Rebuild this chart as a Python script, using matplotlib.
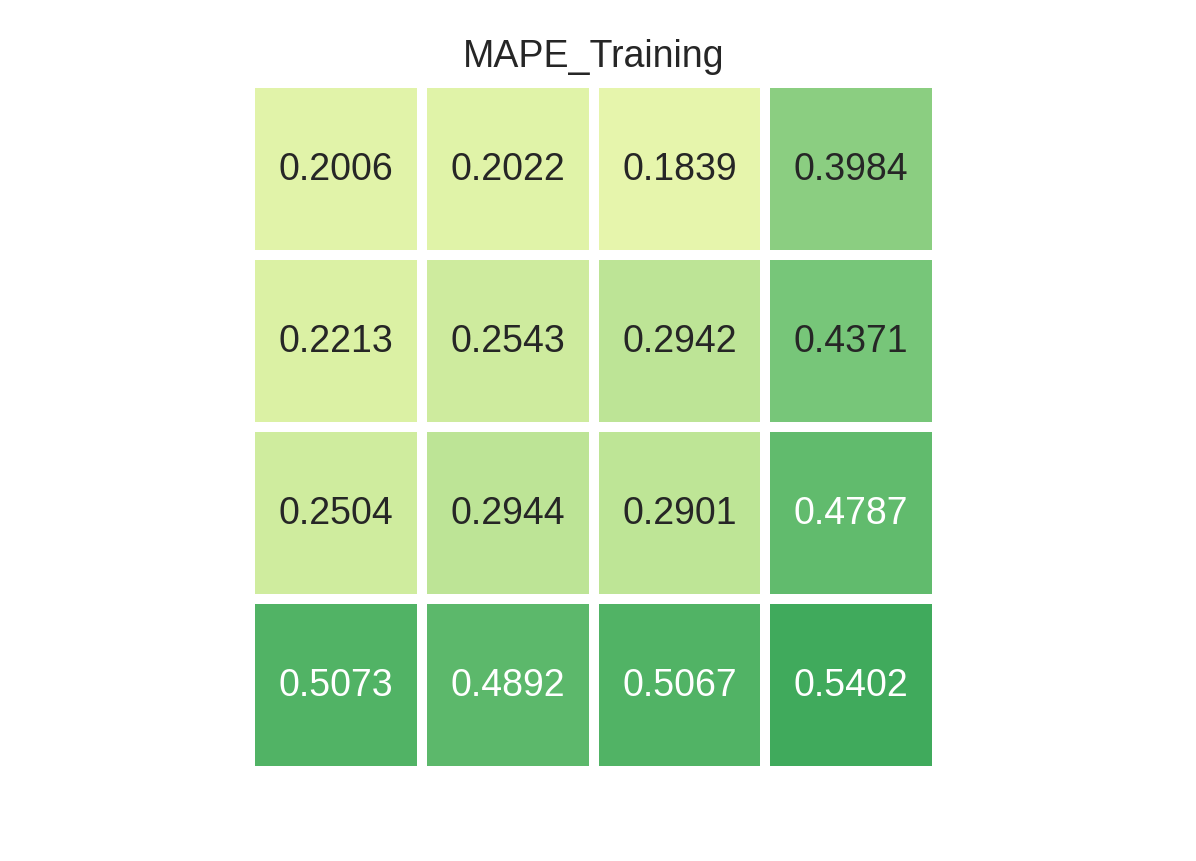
import numpy as np
import matplotlib
matplotlib.use("Agg")
import matplotlib.pyplot as plt
import seaborn as sns

sns.set_style("white")
plt.rcParams['font.family'] = ['Liberation Sans', 'DejaVu Sans']

title = "MAPE_Training"
row0 = [0.2006, 0.2022, 0.1839, 0.3984]
row1 = [0.2213, 0.2543, 0.2942, 0.4371]
row2 = [0.2504, 0.2944, 0.2901, 0.4787]
row3 = [0.5073, 0.4892, 0.5067, 0.5402]

data = np.array([row0, row1, row2, row3])

fig = plt.figure(figsize=(11.96, 8.62), dpi=100)
ax = fig.add_axes([250 / 1196, (862 - 772) / 862, 687 / 1196, 688 / 862])
sns.heatmap(data, ax=ax, cmap="YlGn", vmin=0.02, vmax=0.85, annot=True, fmt=".4f",
            annot_kws={"size": 27}, linewidths=7.2, linecolor="white",
            cbar=False, square=False, xticklabels=False, yticklabels=False)
ax.set_title(title, fontsize=27, color="#262626", pad=12)

fig.savefig("out.png", dpi=100)
